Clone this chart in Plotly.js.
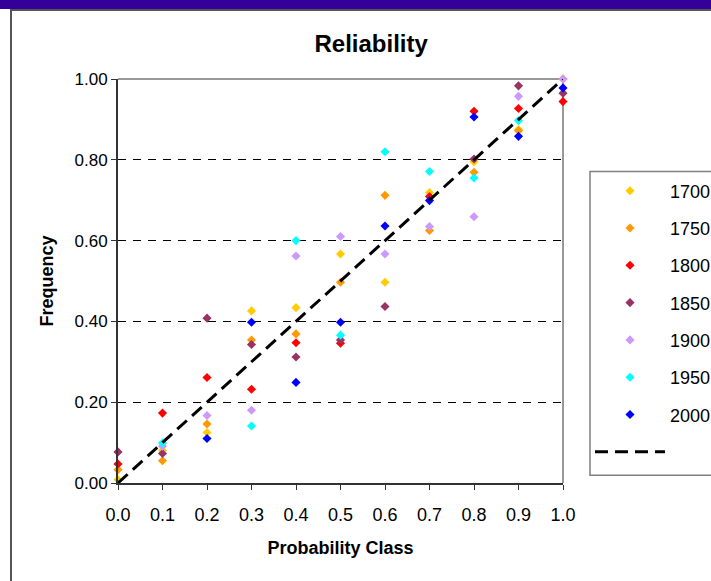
<!DOCTYPE html>
<html>
<head>
<meta charset="utf-8">
<script src="https://cdn.plot.ly/plotly-3.0.1.min.js"></script>
<style>
  html, body { margin: 0; padding: 0; background: #ffffff; overflow: hidden; }
  #wrap { position: relative; width: 711px; height: 581px; }
  #frame { position: absolute; left: 10px; top: 9px; width: 760px; height: 640px;
           border-left: 2px solid #555; border-top: 2px solid #555; background: #fff; }
  #chart { position: absolute; left: 0; top: 0; width: 711px; height: 581px; }
  #bar { position: absolute; left: 0; top: 0; width: 711px; height: 9px; background: #330099; }
</style>
</head>
<body>
<div id="wrap">
  <div id="frame"></div>
  <div id="chart"></div>
  <div id="bar"></div>
</div>
<script>
// Probability classes
const probClass = [0.0, 0.1, 0.2, 0.3, 0.4, 0.5, 0.6, 0.7, 0.8, 0.9, 1.0];

// Observed frequency per series (null = not visible in the reference)
const f1700 = [0.008, 0.081, 0.125, 0.426, 0.434, 0.567, 0.497, 0.719, 0.795, 0.875, 1.0];
const f1750 = [0.033, 0.055, 0.146, 0.354, 0.369, 0.497, 0.712, 0.625, 0.769, 0.872, 1.0];
const f1800 = [0.047, 0.173, 0.261, 0.232, 0.347, 0.346, null, 0.709, 0.920, 0.927, 0.944];
const f1850 = [0.077, 0.073, 0.408, 0.343, 0.312, 0.354, 0.437, null, 0.802, 0.983, 0.965];
const f1900 = [null, 0.091, 0.167, 0.180, 0.562, 0.610, 0.567, 0.635, 0.659, 0.957, 1.0];
const f1950 = [null, 0.099, null, 0.141, 0.600, 0.366, 0.820, 0.771, 0.755, 0.897, null];
const f2000 = [null, null, 0.110, 0.398, 0.249, 0.398, 0.636, 0.699, 0.906, 0.858, 0.978];

// Perfect-reliability reference line
const refX = [0, 1];
const refY = [0, 1];

const seriesNames = ['1700', '1750', '1800', '1850', '1900', '1950', '2000'];
const seriesValues = [f1700, f1750, f1800, f1850, f1900, f1950, f2000];
const seriesColors = ['#FFCC00', '#FF9900', '#FF0000', '#993366', '#CC99FF', '#00FFFF', '#0000FF'];

const FONT = 'Liberation Sans, Arial, sans-serif';

const traces = seriesNames.map((name, i) => ({
  type: 'scatter',
  mode: 'markers',
  name: name,
  legendgroup: 'g' + i,
  x: probClass,
  y: seriesValues[i],
  cliponaxis: false,
  marker: { symbol: 'diamond', size: 7, color: seriesColors[i], line: { width: 0 } },
  hoverinfo: 'x+y+name'
}));

traces.push({
  type: 'scatter',
  mode: 'lines',
  name: ' ',
  legendgroup: 'gline',
  x: refX,
  y: refY,
  cliponaxis: false,
  line: { color: '#000000', width: 3, dash: '13px,7px' }
});

// plot-area pixel geometry helpers (for the legend frame)
const PL = 118, PR = 563, PT = 79.3, PB = 482.7;
const px2x = p => (p - PL) / (PR - PL);
const px2y = p => (PB - p) / (PB - PT);

const layout = {
  width: 711,
  height: 581,
  autosize: false,
  paper_bgcolor: 'rgba(0,0,0,0)',
  plot_bgcolor: 'rgba(0,0,0,0)',
  margin: { l: 118, r: 148, t: 79, b: 98, pad: 0, autoexpand: false },
  font: { family: FONT, size: 17, color: '#000000' },
  title: {
    text: '<b>Reliability</b>',
    font: { family: FONT, size: 24, color: '#000000' },
    xref: 'container', x: 0.522, xanchor: 'center',
    yref: 'container', y: 1 - 44 / 581, yanchor: 'middle'
  },
  xaxis: {
    range: [0, 1],
    tickmode: 'array',
    tickvals: probClass,
    ticktext: probClass.map(v => v.toFixed(1)),
    ticks: 'outside', ticklen: 5, tickwidth: 1, tickcolor: '#333333',
    ticklabelstandoff: 9,
    showline: true, linecolor: '#333333', linewidth: 2,
    showgrid: false, zeroline: false,
    tickfont: { family: FONT, size: 18, color: '#000000' },
    title: { text: '<b>Probability Class</b>', font: { family: FONT, size: 18, color: '#000000' }, standoff: 18 },
    fixedrange: true
  },
  yaxis: {
    range: [0, 1],
    tickmode: 'linear', tick0: 0, dtick: 0.2,
    tickformat: '.2f',
    ticks: 'outside', ticklen: 5, tickwidth: 1, tickcolor: '#333333',
    showline: true, linecolor: '#333333', linewidth: 2,
    showgrid: true, gridcolor: '#000000', gridwidth: 1, griddash: '8px,7px',
    zeroline: false,
    tickfont: { family: FONT, size: 17, color: '#000000' },
    title: { text: '<b>Frequency</b>', font: { family: FONT, size: 18, color: '#000000' }, standoff: 16 },
    fixedrange: true
  },
  shapes: [
    { type: 'line', xref: 'paper', yref: 'paper', x0: 0, x1: 1, y0: 1, y1: 1,
      line: { color: '#999999', width: 2 }, layer: 'between' },
    { type: 'line', xref: 'paper', yref: 'paper', x0: 1, x1: 1, y0: 0, y1: 1,
      line: { color: '#999999', width: 2 }, layer: 'between' },
    // legend frame
    { type: 'rect', xref: 'paper', yref: 'paper',
      x0: px2x(590), x1: px2x(740), y0: px2y(475), y1: px2y(171.7),
      fillcolor: '#ffffff', line: { color: '#808080', width: 1.5 }, layer: 'below' }
  ],
  showlegend: true,
  legend: {
    xref: 'container', x: 590 / 711, xanchor: 'left',
    yref: 'container', y: 1 - 172.5 / 581, yanchor: 'top',
    bgcolor: 'rgba(0,0,0,0)', borderwidth: 0,
    font: { family: FONT, size: 18, color: '#000000' },
    traceorder: 'grouped', tracegroupgap: 10.9,
    itemwidth: 70, itemsizing: 'trace'
  },
  hovermode: 'closest'
};

Plotly.newPlot('chart', traces, layout, { displayModeBar: false, staticPlot: true });
</script>
</body>
</html>
